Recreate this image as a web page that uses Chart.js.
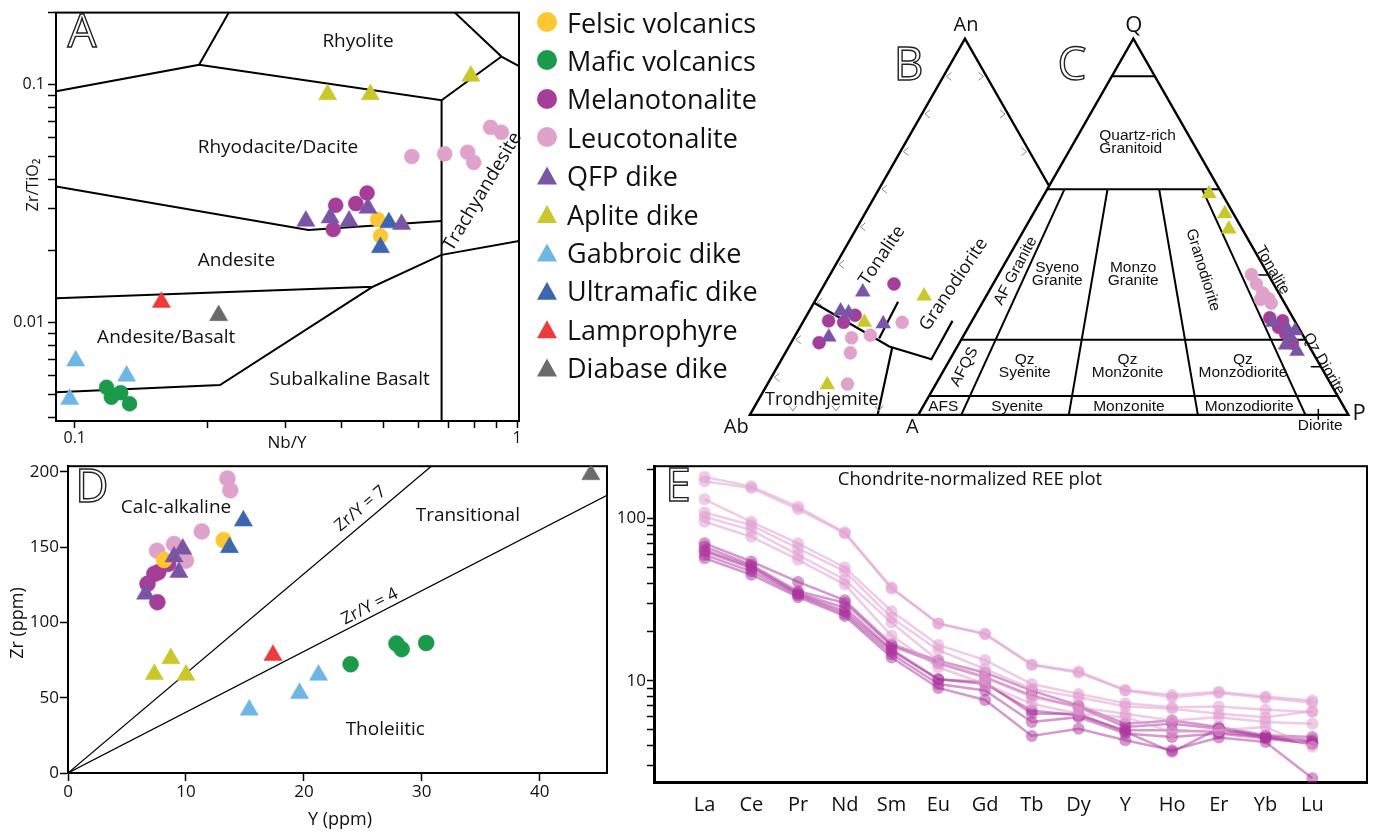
<!DOCTYPE html>
<html>
<head>
<meta charset="utf-8">
<script src="https://cdn.jsdelivr.net/npm/chart.js@4.4.1/dist/chart.umd.min.js"></script>
<style>
  html, body { margin: 0; padding: 0; background: #fff; }
  body { width: 1374px; height: 833px; position: relative; overflow: hidden; font-family: 'Open Sans', sans-serif; }
  canvas { position: absolute; }
  .lg { position: absolute; left: 537px; height: 32px; display: flex; align-items: center; font-size: 27px; color: #111; white-space: nowrap; }
  .mk { width: 20px; height: 20px; margin-right: 10px; flex-shrink: 0; }
</style>
</head>
<body>
<canvas id="cA" width="530" height="460" style="left:0;top:0"></canvas>
<canvas id="cBC" width="674" height="445" style="left:700px;top:0"></canvas>
<canvas id="cD" width="620" height="378" style="left:0;top:455px"></canvas>
<canvas id="cE" width="762" height="378" style="left:612px;top:455px"></canvas>
<div id="legend"></div>
<script>
// ---- sample groups (same order in every panel) ----
const groups = ['Felsic volcanics', 'Mafic volcanics', 'Melanotonalite', 'Leucotonalite', 'QFP dike',
  'Aplite dike', 'Gabbroic dike', 'Ultramafic dike', 'Lamprophyre', 'Diabase dike'];
const groupColors = ['#fdc731', '#1b9a4b', '#a53e98', '#dea2cb', '#7b55a5',
  '#c8c82b', '#6db6e6', '#3d66b0', '#ee3a3d', '#6b6b6d'];
const groupShapes = ['circle', 'circle', 'circle', 'circle', 'triangle',
  'triangle', 'triangle', 'triangle', 'triangle', 'triangle'];

// ---- panel A: Nb/Y vs Zr/TiO2 ----
const aFelsic = [[0.484, 0.0271], [0.491, 0.0231]];
const aMafic = [[0.118, 0.00536], [0.127, 0.00509], [0.121, 0.00487], [0.133, 0.00457]];
const aMelano = [[0.389, 0.0311], [0.432, 0.0316], [0.458, 0.0350], [0.384, 0.0246]];
const aLeuco = [[0.578, 0.0498], [0.686, 0.0511], [0.773, 0.0519], [0.798, 0.0470], [0.871, 0.0660], [0.922, 0.0629]];
const aQfp = [[0.333, 0.0267], [0.378, 0.0276], [0.417, 0.0267], [0.460, 0.0303], [0.548, 0.0259]];
const aAplite = [[0.373, 0.0906], [0.466, 0.0906], [0.786, 0.1083]];
const aGabbro = [[0.1005, 0.00692], [0.131, 0.00598], [0.0974, 0.00478]];
const aUltra = [[0.513, 0.0263], [0.491, 0.0207]];
const aLamp = [[0.157, 0.0122]];
const aDiabase = [[0.2115, 0.01073]];
// field boundaries (Winchester & Floyd)
const aFields = [
  [[0.0908, 0.0935], [0.191, 0.1208], [0.223, 0.2]],
  [[0.191, 0.1208], [0.675, 0.0858], [0.922, 0.1308]],
  [[0.723, 0.2], [0.922, 0.1308], [1.01, 0.1192]],
  [[0.675, 0.0858], [0.675, 0.0038]],
  [[0.0908, 0.0373], [0.3375, 0.0245], [0.675, 0.0267]],
  [[0.0908, 0.01268], [0.472, 0.01417], [0.675, 0.01926], [1.01, 0.02203]],
  [[0.0908, 0.00511], [0.213, 0.00548], [0.472, 0.01417]]
];

// ---- panel B: An-Ab-Or (values: [An, Ab, Or] %) ----
const bMelano = [[34.8, 49.1, 16.1], [25.0, 69.2, 5.8], [24.6, 65.9, 9.5], [26.5, 62.3, 11.2], [19.2, 74.3, 6.5]];
const bLeuco = [[24.6, 52.4, 23.1], [21.2, 61.4, 17.4], [20.5, 65.1, 13.4], [16.5, 68.4, 15.1], [8.2, 73.2, 18.6]];
const bQfp = [[32.7, 57.4, 9.9], [27.6, 65.2, 7.3], [27.1, 63.5, 9.4], [24.2, 56.9, 18.9], [20.7, 71.2, 8.0]];
const bAplite = [[31.6, 43.7, 24.7], [24.6, 61.2, 14.3], [8.0, 78.0, 14.0]];
// boundaries as [An, Or] %
const bOutline = [[0, 39.14], [0, 0], [100, 0], [60.86, 39.14]];
const bFieldLines = [
  [[29.8, 0], [18.2, 23.3], [14.8, 34.8], [25.0, 34.6]],
  [[30.1, 19.4], [20.3, 19.9]],
  [[18.0, 24.1], [0, 29.7]]
];
const bTickLeft = [10, 20, 30, 40, 50, 60, 70, 80, 90];
const bTickRight = [70, 80, 90];
const bTickBase = [10, 20, 30];

// ---- panel C: QAP (values: [Q, A, P] %) ----
const cMelano = [[25.8, 5.4, 68.8], [25.0, 2.9, 72.2], [23.3, 4.6, 72.1], [21.6, 3.8, 74.6], [19.1, 3.6, 77.4]];
const cLeuco = [[37.3, 3.8, 58.8], [34.8, 4.0, 61.2], [32.4, 3.7, 63.9], [30.9, 3.1, 66.0], [30.7, 5.1, 64.2], [29.7, 3.2, 67.2]];
const cQfp = [[24.6, 5.3, 70.1], [22.9, 2.8, 74.3], [22.4, 1.1, 76.4], [18.6, 5.3, 76.1], [16.9, 3.5, 79.6], [20.7, 3.1, 76.2]];
const cAplite = [[58.8, 3.0, 38.2], [53.5, 2.0, 44.5], [49.4, 3.1, 47.5]];
const cQuartzLevels = [90, 60, 20, 5];
const cPlagRatios = [10, 35, 65, 90];
const cTickRight = [37.2, 12.8];
const cTickBase = [93];

// ---- panel D: Y vs Zr (ppm) ----
const dFelsic = [[13.2, 154.6], [8.15, 141.4]];
const dMafic = [[23.96, 72.2], [27.85, 85.9], [28.29, 82.2], [30.37, 86.3]];
const dMelano = [[8.49, 138.8], [7.65, 133.3], [7.32, 132.2], [6.74, 125.6], [7.58, 113.4]];
const dLeuco = [[13.52, 195.6], [13.76, 187.7], [11.34, 160.4], [8.99, 152.0], [7.55, 147.6], [10.0, 141.0]];
const dQfp = [[9.73, 148.7], [8.99, 143.6], [9.40, 133.3], [6.58, 118.9]];
const dAplite = [[7.32, 65.6], [8.72, 76.0], [10.0, 65.0]];
const dGabbro = [[15.37, 41.9], [19.63, 52.9], [21.24, 65.0]];
const dUltra = [[14.87, 167.4], [13.69, 149.8]];
const dLamp = [[17.38, 78.2]];
const dDiabase = [[44.33, 198.2]];
const dRatio7 = [[0, 0], [30.8, 203.7]];
const dRatio4 = [[0, 0], [45.7, 184.4]];

// ---- panel E: chondrite-normalised REE ----
const reeElements = ['La', 'Ce', 'Pr', 'Nd', 'Sm', 'Eu', 'Gd', 'Tb', 'Dy', 'Y', 'Ho', 'Er', 'Yb', 'Lu'];
const reeLeuco = [
  [179.9, 157.8, 117.9, 82.1, 37.6, 22.5, 19.5, 12.6, 11.4, 8.77, 8.17, 8.56, 7.98, 7.54],
  [169.3, 154.1, 114.1, 80.9, 36.9, 22.5, 19.3, 12.5, 11.2, 8.69, 7.91, 8.40, 7.83, 7.30],
  [131.3, 95.4, 70.3, 49.9, 26.8, 16.6, 13.4, 9.54, 8.29, 7.26, 6.87, 6.93, 6.61, 6.40],
  [108.8, 91.0, 65.5, 47.2, 24.4, 15.4, 11.8, 8.89, 7.91, 6.93, 6.71, 6.25, 5.96, 6.49],
  [102.4, 84.8, 59.6, 41.9, 22.8, 13.3, 10.5, 7.91, 6.87, 6.25, 5.69, 5.96, 5.56, 5.43],
  [95.4, 77.2, 55.6, 39.1, 18.9, 12.1, 9.54, 7.20, 6.25, 5.96, 4.83, 4.94, 5.18, 3.91]
];
const reeMelano = [
  [70.3, 54.3, 40.6, 31.3, 16.8, 13.3, 11.2, 8.69, 7.03, 5.43, 5.69, 5.18, 4.61, 4.50],
  [67.1, 51.8, 35.6, 30.2, 16.4, 12.8, 10.5, 8.09, 6.87, 5.18, 5.43, 5.06, 4.54, 4.29],
  [62.5, 49.4, 34.2, 26.8, 15.3, 10.2, 9.54, 6.55, 6.11, 4.94, 4.94, 4.83, 4.50, 4.19],
  [59.6, 47.2, 33.6, 25.8, 14.6, 9.54, 8.69, 5.56, 5.96, 4.72, 4.50, 4.72, 4.40, 4.09],
  [56.9, 45.0, 32.7, 25.0, 13.9, 9.02, 7.61, 4.56, 5.06, 4.29, 3.73, 4.46, 4.19, 2.50],
  [64.0, 50.6, 34.7, 28.1, 15.6, 10.2, 9.77, 6.25, 6.25, 4.83, 3.64, 5.06, 4.46, 4.09]
];

// ------------------------------------------------------------------
Chart.defaults.font.family = "'Open Sans', sans-serif";
Chart.defaults.color = '#111';
Chart.defaults.animation = false;
Chart.defaults.responsive = false;
Chart.defaults.plugins.legend.display = false;
Chart.defaults.plugins.tooltip.enabled = false;

const SANS = "'Open Sans', sans-serif";
const ARIAL = "'Liberation Sans', Arial, sans-serif";

const xy = pairs => pairs.map(([x, y]) => ({ x, y }));

function pointSet(data, g, rc, rt) {
  const tri = groupShapes[g] === 'triangle';
  return {
    label: groups[g], data, showLine: false, pointStyle: groupShapes[g],
    pointRadius: tri ? rt : rc, pointBackgroundColor: groupColors[g],
    pointBorderColor: groupColors[g], pointBorderWidth: 0.5, order: tri ? 0 : 1
  };
}
function lineSet(data, width) {
  return { data, showLine: true, borderColor: '#000', borderWidth: width || 2, pointRadius: 0, fill: false, tension: 0, order: 5 };
}

// frame round the plot area
const framePlugin = lw => ({
  id: 'frame',
  beforeDatasetsDraw(chart) {
    const { ctx, chartArea: a } = chart;
    ctx.save();
    ctx.lineWidth = lw;
    ctx.strokeStyle = '#000';
    ctx.strokeRect(a.left, a.top, a.right - a.left, a.bottom - a.top);
    ctx.restore();
  }
});

// text labels, either in data units (at) or canvas pixels (px)
const notesPlugin = items => ({
  id: 'notes',
  afterDatasetsDraw(chart) {
    const ctx = chart.ctx;
    items.forEach(n => {
      let x, y;
      if (n.px) { x = n.px[0]; y = n.px[1]; }
      else { x = chart.scales.x.getPixelForValue(n.at[0]); y = chart.scales.y.getPixelForValue(n.at[1]); }
      ctx.save();
      ctx.translate(x, y);
      if (n.rot) ctx.rotate(n.rot * Math.PI / 180);
      ctx.font = n.font;
      ctx.textAlign = n.align || 'center';
      ctx.textBaseline = 'middle';
      if (n.outline) {
        ctx.lineWidth = 1.4;
        ctx.strokeStyle = '#222';
        ctx.strokeText(n.text, 0, 0);
      } else {
        ctx.fillStyle = '#111';
        ctx.fillText(n.text, 0, 0);
      }
      ctx.restore();
    });
  }
});

const near = (a, b) => Math.abs(a - b) < 1e-9;
const BIG = '46px ' + SANS;

// ================= Panel A =================
const aSets = [aFelsic, aMafic, aMelano, aLeuco, aQfp, aAplite, aGabbro, aUltra, aLamp, aDiabase];
new Chart(document.getElementById('cA'), {
  type: 'scatter',
  data: {
    datasets: [
      ...aSets.map((s, g) => pointSet(xy(s), g, 7.5, 10.5)),
      ...aFields.map(f => lineSet(xy(f), 2))
    ]
  },
  options: {
    layout: { padding: { top: 10, right: 4, left: 0, bottom: 0 } },
    scales: {
      x: {
        type: 'logarithmic', min: 0.0907, max: 1.01,
        afterFit: s => { s.height = 39; },
        afterBuildTicks: s => { s.ticks = [0.1, 0.2, 0.3, 0.4, 0.5, 0.6, 0.7, 0.8, 0.9, 1].map(v => ({ value: v })); },
        ticks: { autoSkip: false, maxRotation: 0, padding: 1, font: { size: 16 }, color: '#111',
          callback: v => near(v, 0.1) ? '0.1' : near(v, 1) ? '1' : '' },
        grid: { drawOnChartArea: false, tickLength: 7, tickColor: '#000', tickWidth: 1.5 },
        border: { color: '#000', width: 2 }
      },
      y: {
        type: 'logarithmic', min: 0.00387, max: 0.2,
        afterFit: s => { s.width = 56; },
        afterBuildTicks: s => {
          s.ticks = [0.004, 0.005, 0.006, 0.007, 0.008, 0.009, 0.01, 0.02, 0.03, 0.04, 0.05, 0.06, 0.07, 0.08, 0.09, 0.1, 0.2]
            .map(v => ({ value: v }));
        },
        ticks: { autoSkip: false, padding: 3, font: { size: 16 }, color: '#111',
          callback: v => near(v, 0.1) ? '0.1' : near(v, 0.01) ? '0.01' : '' },
        grid: { drawOnChartArea: false, tickLength: 8, tickColor: '#000', tickWidth: 1.5 },
        border: { color: '#000', width: 2 }
      }
    }
  },
  plugins: [framePlugin(2), notesPlugin([
    { text: 'A', px: [82, 34], font: BIG, outline: true },
    { text: 'Rhyolite', at: [0.437, 0.151], font: '19px ' + SANS },
    { text: 'Rhyodacite/Dacite', at: [0.288, 0.0543], font: '19px ' + SANS },
    { text: 'Andesite', at: [0.232, 0.0182], font: '19px ' + SANS },
    { text: 'Andesite/Basalt', at: [0.161, 0.00866], font: '19px ' + SANS },
    { text: 'Subalkaline Basalt', at: [0.418, 0.00579], font: '19px ' + SANS },
    { text: 'Trachyandesite', at: [0.835, 0.0355], font: '19px ' + SANS, rot: -59 },
    { text: 'Zr/TiO\u2082', px: [33, 185], font: '16px ' + SANS, rot: -90 },
    { text: 'Nb/Y', px: [287, 443], font: '17px ' + SANS }
  ])]
});

// ================= Legend =================
const legendBox = document.getElementById('legend');
groups.forEach((name, g) => {
  const row = document.createElement('div');
  row.className = 'lg';
  row.style.top = (22 + g * 38.4 - 16) + 'px';
  const mk = document.createElement('div');
  mk.className = 'mk';
  mk.style.background = groupColors[g];
  if (groupShapes[g] === 'circle') mk.style.borderRadius = '50%';
  else mk.style.clipPath = 'polygon(50% 5%, 100% 95%, 0% 95%)';
  row.appendChild(mk);
  row.appendChild(document.createTextNode(name));
  legendBox.appendChild(row);
});

// ================= Panels B and C (ternaries) =================
const H = 0.866;
const bxy = (an, or) => ({ x: (or + an / 2) / 100, y: an / 100 * H });
const cX0 = 0.3914;
const cxy = (q, p) => ({ x: cX0 + (p + q / 2) / 100, y: q / 100 * H });

const bPts = (arr, g) => pointSet(arr.map(([an, ab, or]) => bxy(an, or)), g, 6.5, 8.5);
const cPts = (arr, g) => pointSet(arr.map(([q, a, p]) => cxy(q, p)), g, 6.5, 8.5);

const cOutline = [[0, 0], [100, 0], [0, 100], [0, 0]];
const cLines = [
  ...cQuartzLevels.map(q => [[q, 0], [q, 100 - q]]),
  ...cPlagRatios.map(r => [[60, 40 * r / 100], [0, r]])
];

const ternTicks = {
  id: 'ternTicks',
  afterDatasetsDraw(chart) {
    const { ctx, scales: { x, y } } = chart;
    const P = pt => [x.getPixelForValue(pt.x), y.getPixelForValue(pt.y)];
    ctx.save();
    ctx.strokeStyle = '#8a8a8a';
    ctx.lineWidth = 1;
    const chev = pts => { ctx.beginPath(); ctx.moveTo(...pts[0]); ctx.lineTo(...pts[1]); ctx.lineTo(...pts[2]); ctx.stroke(); };
    bTickLeft.forEach(v => { const [px, py] = P(bxy(v, 0)); chev([[px + 8, py - 4], [px + 3, py], [px + 8, py + 4]]); });
    bTickRight.forEach(v => { const [px, py] = P(bxy(v, 100 - v)); chev([[px - 8, py - 4], [px - 3, py], [px - 8, py + 4]]); });
    bTickBase.forEach(v => { const [px, py] = P(bxy(0, v)); chev([[px - 4, py - 9], [px, py - 4], [px + 4, py - 9]]); });
    ctx.strokeStyle = '#000';
    ctx.lineWidth = 1.5;
    cTickRight.forEach(q => { const [px, py] = P(cxy(q, 100 - q)); ctx.beginPath(); ctx.moveTo(px - 10, py); ctx.lineTo(px, py); ctx.stroke(); });
    cTickBase.forEach(p => { const [px, py] = P(cxy(0, p)); ctx.beginPath(); ctx.moveTo(px, py - 6); ctx.lineTo(px, py + 5); ctx.stroke(); });
    ctx.restore();
  }
};

const TF = '18px ' + SANS;
const CF = '15.5px ' + ARIAL;
new Chart(document.getElementById('cBC'), {
  type: 'scatter',
  data: {
    datasets: [
      bPts(bMelano, 2), bPts(bLeuco, 3), bPts(bQfp, 4), bPts(bAplite, 5),
      cPts(cMelano, 2), cPts(cLeuco, 3), cPts(cQfp, 4), cPts(cAplite, 5),
      lineSet(bOutline.map(([an, or]) => bxy(an, or)), 2.4),
      ...bFieldLines.map(l => lineSet(l.map(([an, or]) => bxy(an, or)), 2.2)),
      lineSet(cOutline.map(([q, p]) => cxy(q, p)), 2.4),
      ...cLines.map(l => lineSet(l.map(([q, p]) => cxy(q, p)), 2))
    ]
  },
  options: {
    layout: { padding: 0 },
    scales: {
      x: { type: 'linear', display: false, min: -0.095, max: 1.4299 },
      y: { type: 'linear', display: false, min: -0.0486, max: 0.9345 }
    }
  },
  plugins: [ternTicks, notesPlugin([
    { text: 'An', at: [0.5023, 0.8969], font: '20px ' + SANS },
    { text: 'Q', at: [0.8925, 0.8969], font: '22px ' + SANS },
    { text: 'Ab', at: [-0.0317, -0.0287], font: '20px ' + SANS },
    { text: 'A', at: [0.3778, -0.0287], font: '20px ' + SANS },
    { text: 'P', at: [1.4163, 0.0022], font: '22px ' + SANS },
    { text: 'B', at: [0.3688, 0.8019], font: BIG, outline: true },
    { text: 'C', at: [0.7489, 0.8019], font: BIG, outline: true },
    { text: 'Tonalite', at: [0.3072, 0.3667], font: TF, rot: -56 },
    { text: 'Granodiorite', at: [0.474, 0.3004], font: TF, rot: -56 },
    { text: 'Trondhjemite', at: [0.1674, 0.0338], font: TF },
    { text: 'Quartz-rich', at: [0.8122, 0.6435], font: CF, align: 'left' },
    { text: 'Granitoid', at: [0.8122, 0.6126], font: CF, align: 'left' },
    { text: 'AF Granite', at: [0.6176, 0.3314], font: CF, rot: -62 },
    { text: 'Syeno', at: [0.7145, 0.338], font: CF },
    { text: 'Granite', at: [0.7145, 0.3086], font: CF },
    { text: 'Monzo', at: [0.891, 0.338], font: CF },
    { text: 'Granite', at: [0.891, 0.3086], font: CF },
    { text: 'Granodiorite', at: [1.0529, 0.3336], font: CF, rot: 73 },
    { text: 'Tonalite', at: [1.2149, 0.3329], font: CF, rot: 60 },
    { text: 'AFQS', at: [0.4986, 0.1105], font: CF, rot: -62 },
    { text: 'Qz', at: [0.6389, 0.1281], font: CF },
    { text: 'Syenite', at: [0.6389, 0.0972], font: CF },
    { text: 'Qz', at: [0.8778, 0.1281], font: CF },
    { text: 'Monzonite', at: [0.8778, 0.0972], font: CF },
    { text: 'Qz', at: [1.1462, 0.1281], font: CF },
    { text: 'Monzodiorite', at: [1.1462, 0.0972], font: CF },
    { text: 'Qz Diorite', at: [1.3342, 0.1171], font: CF, rot: 60 },
    { text: 'AFS', at: [0.4495, 0.0199], font: CF },
    { text: 'Syenite', at: [0.6213, 0.0199], font: CF },
    { text: 'Monzonite', at: [0.8812, 0.0199], font: CF },
    { text: 'Monzodiorite', at: [1.1606, 0.0199], font: CF },
    { text: 'Diorite', at: [1.3258, -0.0243], font: CF }
  ])]
});

// ================= Panel D =================
const dSets = [dFelsic, dMafic, dMelano, dLeuco, dQfp, dAplite, dGabbro, dUltra, dLamp, dDiabase];
new Chart(document.getElementById('cD'), {
  type: 'scatter',
  data: {
    datasets: [
      ...dSets.map((s, g) => pointSet(xy(s), g, 8, 10.5)),
      lineSet(xy(dRatio7), 1.2),
      lineSet(xy(dRatio4), 1.2)
    ]
  },
  options: {
    layout: { padding: { top: 10, right: 13, left: 0, bottom: 0 } },
    scales: {
      x: {
        type: 'linear', min: 0, max: 45.7,
        afterFit: s => { s.height = 60; },
        afterBuildTicks: s => { s.ticks = [0, 10, 20, 30, 40].map(v => ({ value: v })); },
        ticks: { padding: 1, font: { size: 17 }, color: '#111' },
        grid: { drawOnChartArea: false, tickLength: 8, tickColor: '#000', tickWidth: 1.5 },
        border: { color: '#000', width: 2 }
      },
      y: {
        type: 'linear', min: 0, max: 203.7,
        afterFit: s => { s.width = 68; },
        afterBuildTicks: s => { s.ticks = [0, 50, 100, 150, 200].map(v => ({ value: v })); },
        ticks: { padding: 1, font: { size: 17 }, color: '#111' },
        grid: { drawOnChartArea: false, tickLength: 8, tickColor: '#000', tickWidth: 1.5 },
        border: { color: '#000', width: 2 }
      }
    }
  },
  plugins: [framePlugin(2), notesPlugin([
    { text: 'D', px: [92, 34], font: BIG, outline: true },
    { text: 'Calc-alkaline', at: [9.16, 176.2], font: '19px ' + SANS },
    { text: 'Transitional', at: [33.9, 171.1], font: '19px ' + SANS },
    { text: 'Tholeiitic', at: [26.9, 28.6], font: '19px ' + SANS },
    { text: 'Zr/Y = 7', at: [24.8, 175.5], font: '17px ' + SANS, rot: -40 },
    { text: 'Zr/Y = 4', at: [25.6, 110.5], font: '17px ' + SANS, rot: -27 },
    { text: 'Zr (ppm)', px: [18, 168], font: '18px ' + SANS, rot: -90 },
    { text: 'Y (ppm)', px: [340, 365], font: '18px ' + SANS }
  ])]
});

// ================= Panel E =================
const LIGHT = 'rgba(226,160,210,0.55)';
const DARK = 'rgba(172,52,158,0.5)';
const reeSet = (vals, color) => ({
  data: vals.map((v, i) => ({ x: i, y: v })), borderColor: color, backgroundColor: color,
  pointBackgroundColor: color, pointBorderWidth: 0, pointRadius: 6, borderWidth: 2.5, tension: 0, fill: false
});
new Chart(document.getElementById('cE'), {
  type: 'line',
  data: { datasets: [...reeLeuco.map(v => reeSet(v, LIGHT)), ...reeMelano.map(v => reeSet(v, DARK))] },
  options: {
    layout: { padding: { top: 9, right: 7, left: 0, bottom: 0 } },
    scales: {
      x: {
        type: 'linear', min: -1.082, max: 14.17,
        afterFit: s => { s.height = 50.3; },
        afterBuildTicks: s => { s.ticks = reeElements.map((_, i) => ({ value: i })); },
        ticks: { autoSkip: false, maxRotation: 0, padding: 3, font: { size: 20 }, color: '#111',
          callback: v => reeElements[v] ?? '' },
        grid: { display: false },
        border: { display: true, color: '#000', width: 3 }
      },
      y: {
        type: 'logarithmic', min: 2.35, max: 210,
        afterFit: s => { s.width = 42; },
        afterBuildTicks: s => {
          s.ticks = [3, 4, 5, 6, 7, 8, 9, 10, 20, 30, 40, 50, 60, 70, 80, 90, 100, 200].map(v => ({ value: v }));
        },
        ticks: { autoSkip: false, padding: 1, font: { size: 17 }, color: '#111',
          callback: v => (v === 10 || v === 100) ? String(v) : '' },
        grid: { drawOnChartArea: false, tickLength: 7, tickColor: '#000', tickWidth: 1.5 },
        border: { color: '#000', width: 3 }
      }
    }
  },
  plugins: [framePlugin(2), notesPlugin([
    { text: 'E', px: [66, 33], font: BIG, outline: true },
    { text: 'Chondrite-normalized REE plot', px: [358, 25], font: '18.5px ' + SANS }
  ])]
});
</script>
</body>
</html>
